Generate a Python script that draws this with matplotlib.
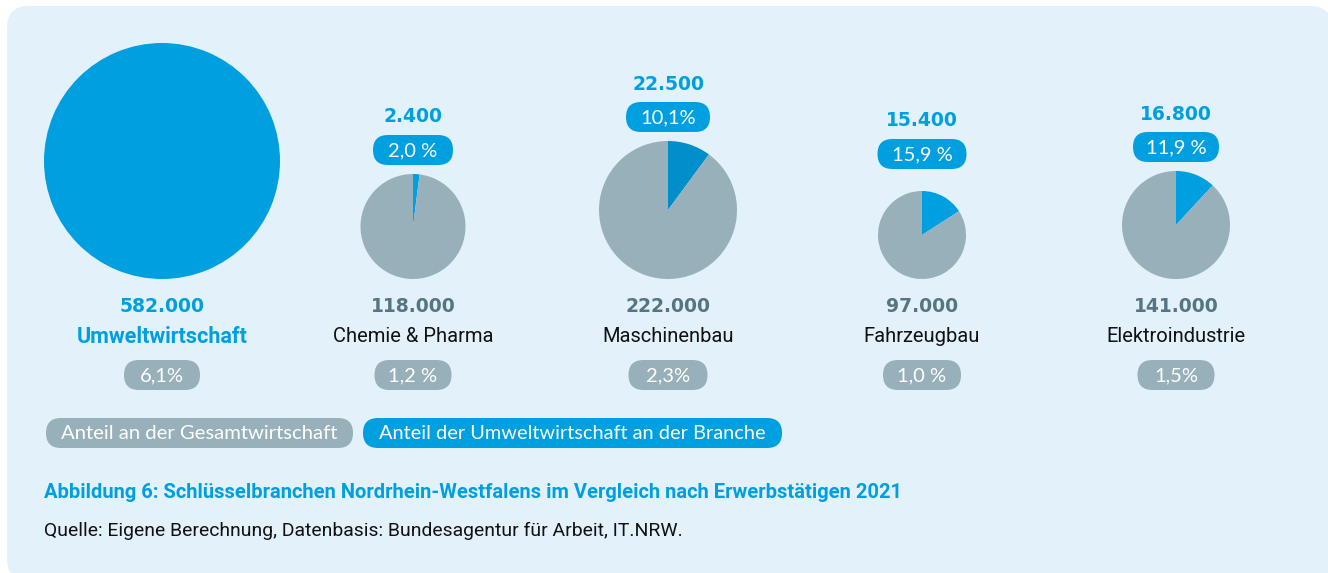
import matplotlib
matplotlib.use("Agg")
import matplotlib.pyplot as plt
from matplotlib.patches import FancyBboxPatch
from matplotlib import font_manager as fm

# ---------------- data ----------------
branches = ["Umweltwirtschaft", "Chemie & Pharma", "Maschinenbau", "Fahrzeugbau", "Elektroindustrie"]
employees = [582000, 118000, 222000, 97000, 141000]
env_employees = [None, 2400, 22500, 15400, 16800]
env_share = [100.0, 2.0, 10.1, 15.9, 11.9]
env_share_labels = [None, "2,0 %", "10,1%", "15,9 %", "11,9 %"]
total_share_labels = ["6,1%", "1,2 %", "2,3%", "1,0 %", "1,5%"]
legend_labels = ["Anteil an der Gesamtwirtschaft", "Anteil der Umweltwirtschaft an der Branche"]
title = "Abbildung 6: Schlüsselbranchen Nordrhein-Westfalens im Vergleich nach Erwerbstätigen 2021"
source = "Quelle: Eigene Berechnung, Datenbasis: Bundesagentur für Arbeit, IT.NRW."

# ---------------- layout / style ----------------
W, H = 1328, 573
centers_x = [162, 413, 668, 922, 1176]
radii = [118, 52.5, 69, 44, 54]
pie_bottom = 279
top_pill_y = [None, 150, 117, 154, 147]
top_pill_w = [None, 80, 84, 89, 86]
bot_pill_w = [76, 77, 79, 78, 77]

BG = "#e3f1fb"
BLUE = "#009fe0"
BLUE_DARK = "#008fca"
GREY = "#98b0ba"
GREY_TXT = "#557580"

avail = {f.name for f in fm.fontManager.ttflist}
def pick(*names):
    for n in names:
        if n in avail:
            return n
    return "DejaVu Sans"

F_NUM = "DejaVu Sans"
F_PILL = pick("Lato", "Open Sans")
F_TXT = pick("Roboto", "Inter", "Liberation Sans")
F_TITLE = pick("Liberation Sans Narrow", "Roboto", "Liberation Sans")

fig = plt.figure(figsize=(W / 100, H / 100), dpi=100)
fig.patch.set_facecolor("white")
ax = fig.add_axes([0, 0, 1, 1])

def Y(py):
    return H - py

# background panel
panel = FancyBboxPatch((7, -8), W - 7 + 4, H - 6 + 8,
                       boxstyle="round,pad=0,rounding_size=22",
                       facecolor=BG, edgecolor="none", zorder=0)
ax.add_patch(panel)

def pill(cx, cy, w, h, color, text, fs, family=F_PILL):
    p = FancyBboxPatch((cx - w / 2, Y(cy) - h / 2), w, h,
                       boxstyle="round,pad=0,rounding_size=%f" % (h / 2),
                       facecolor=color, edgecolor="none", zorder=3)
    ax.add_patch(p)
    return ax.text(cx, Y(cy) - 0.5, text, ha="center", va="center", color="white",
                   fontsize=fs, family=family, fontweight="normal", zorder=4)

for i, name in enumerate(branches):
    cx = centers_x[i]
    r = radii[i]
    cy = pie_bottom - r
    if i == 0:
        vals = [env_share[i]]
        cols = [BLUE]
    else:
        vals = [env_share[i], 100 - env_share[i]]
        cols = [BLUE_DARK if i == 2 else BLUE, GREY]
    ax.pie(vals, colors=cols, startangle=90, counterclock=False,
           center=(cx, Y(cy)), radius=r, frame=True,
           wedgeprops=dict(linewidth=0))
    ax.text(cx, Y(306), f"{employees[i]:,}".replace(",", "."), ha="center", va="center",
            fontsize=13.5, fontweight="bold", family=F_NUM,
            color=BLUE if i == 0 else GREY_TXT)
    ax.text(cx, Y(337), name, ha="center", va="center",
            fontsize=15.5 if i == 0 else 14.5, fontweight="bold" if i == 0 else "normal",
            family=F_TXT, color=BLUE if i == 0 else "#111111")
    pill(cx, 375, bot_pill_w[i], 30, GREY, total_share_labels[i], 14.5)
    if i > 0:
        py = top_pill_y[i]
        pill(cx, py, top_pill_w[i], 30, BLUE, env_share_labels[i], 14.5)
        ax.text(cx, Y(py - 33), f"{env_employees[i]:,}".replace(",", "."), ha="center", va="center",
                fontsize=13.5, fontweight="bold", family=F_NUM, color=BLUE)

# legend pills
leg_x = [(46, 353), (363, 782)]
leg_c = [GREY, BLUE]
leg_texts = []
for (x0, x1), c, lab in zip(leg_x, leg_c, legend_labels):
    leg_texts.append(pill((x0 + x1) / 2, 433, x1 - x0, 30, c, lab, 13.5))

t1 = ax.text(44, Y(492), title, ha="left", va="center", fontsize=12.5, fontweight="bold",
             family=F_TITLE, color=BLUE)
t2 = ax.text(44, Y(531), source, ha="left", va="center", fontsize=11.5,
             family=F_TITLE, color="#111111")

ax.set_xlim(0, W)
ax.set_ylim(0, H)
ax.set_aspect("equal")
ax.axis("off")

# fit text widths to reference extents
fig.canvas.draw()
rend = fig.canvas.get_renderer()
for t, target in [(t1, 859), (t2, 642), (leg_texts[0], 277), (leg_texts[1], 389)]:
    w = t.get_window_extent(rend).width
    t.set_fontsize(t.get_fontsize() * target / w)

fig.savefig("out.png", dpi=100, facecolor="white")
